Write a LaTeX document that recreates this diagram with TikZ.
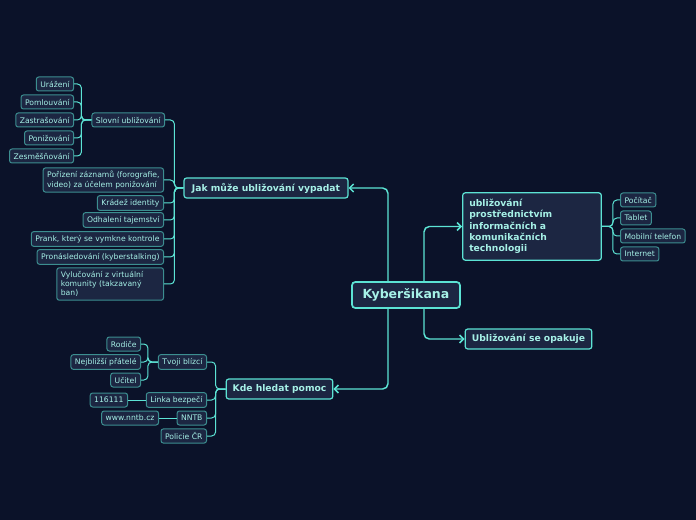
\documentclass[tikz,border=0pt]{standalone}
\usepackage{fontspec}
\setmainfont{DejaVu Sans}
\usetikzlibrary{arrows.meta,positioning}
\definecolor{bgnavy}{HTML}{0B1229}
\definecolor{boxfill}{HTML}{1C2642}
\definecolor{edge}{HTML}{5CE3D4}
\definecolor{dimedge}{HTML}{3C8E90}
\definecolor{txt}{HTML}{A6F1E7}

\begin{document}
\begin{tikzpicture}[
          x=0.75pt, y=-0.75pt,
          root/.style={draw=edge, line width=1.3pt, fill=boxfill, rounded corners=2.5pt, text=txt,
                       font=\bfseries\fontsize{9.4}{11}\selectfont, minimum height=19.5pt, inner xsep=4pt},
          topic/.style={draw=edge, line width=0.9pt, fill=boxfill, rounded corners=2pt, text=txt,
                        font=\bfseries\fontsize{6.9}{8.4}\selectfont, minimum height=15pt, inner xsep=4pt},
          leaf/.style={draw=dimedge, line width=0.75pt, fill=boxfill, rounded corners=1.8pt, text=txt,
                       font=\fontsize{5.75}{6.9}\selectfont, minimum height=10.5pt, inner xsep=3pt, inner ysep=2.6pt},
          link/.style={draw=edge, line width=1.1pt, rounded corners=4pt},
          twig/.style={draw=edge, line width=0.75pt, rounded corners=3pt},
          tip/.style={-{Straight Barb[length=3pt,width=6pt]}}
      ]
        \fill[bgnavy] (0,0) rectangle (696,520);

        \node[root, minimum width=81pt] (kyber) at (406,295) {Kyberšikana};
        \node[topic, minimum width=123pt] (jak) at (266,188) {Jak může ubližování vypadat};
        \node[topic, text width=94pt, align=left, inner sep=5pt, minimum height=47pt] (ikt) at (532,226.5)
            {ubližování\\prostřednictvím\\informačních a\\komunikačních\\technologii};
        \node[topic, minimum width=95pt] (opak) at (528.5,339) {Ubližování se opakuje};
        \node[topic, minimum width=80pt] (kde) at (279.5,389) {Kde hledat pomoc};

        \draw[link, tip] ([xshift=-13.5pt]kyber.north) |- (jak.east);
        \draw[link, tip] ([xshift=13.5pt]kyber.north) |- (ikt.west);
        \draw[link, tip] ([xshift=13.5pt]kyber.south) |- (opak.west);
        \draw[link, tip] ([xshift=-13.5pt]kyber.south) |- (kde.east);

        \node[leaf, anchor=east] (slovni) at (165,120) {Slovní ubližování};
        \node[leaf, anchor=east, align=left] (zaznam) at (164,180) {Pořízení záznamů (forografie,\\video) za účelem ponižování};
        \node[leaf, anchor=east] (kradez) at (164,203) {Krádež identity};
        \node[leaf, anchor=east] (odhaleni) at (164,220) {Odhalení tajemství};
        \node[leaf, anchor=east] (prank) at (164,239) {Prank, který se vymkne kontrole};
        \node[leaf, anchor=east] (pronas) at (164,257) {Pronásledování (kyberstalking)};
        \node[leaf, anchor=east, text width=74pt, align=left] (vylouc) at (164,284) {Vylučování z virtuální\\komunity (takzavaný\\ban)};

        \node[leaf, anchor=east] (urazeni) at (74,84) {Urážení};
        \node[leaf, anchor=east] (pomluva) at (74,102) {Pomlouvání};
        \node[leaf, anchor=east] (zastras) at (74,120) {Zastrašování};
        \node[leaf, anchor=east] (ponizeni) at (74,138) {Ponižování};
        \node[leaf, anchor=east] (zesmesn) at (74,156) {Zesměšňování};

        \node[leaf, anchor=west] (pocitac) at (620,200) {Počítač};
        \node[leaf, anchor=west] (tablet) at (620,218) {Tablet};
        \node[leaf, anchor=west] (mobil) at (620,236) {Mobilní telefon};
        \node[leaf, anchor=west] (internet) at (620,254) {Internet};

        \node[leaf, anchor=east] (blizci) at (207,362) {Tvoji blízcí};
        \node[leaf, anchor=east] (linka) at (207,400) {Linka bezpečí};
        \node[leaf, anchor=east] (nntb) at (207,418) {NNTB};
        \node[leaf, anchor=east] (policie) at (207,436) {Policie ČR};

        \node[leaf, anchor=east] (rodice) at (141,344) {Rodiče};
        \node[leaf, anchor=east] (pratele) at (141,362) {Nejbližší přátelé};
        \node[leaf, anchor=east] (ucitel) at (141,380) {Učitel};
        \node[leaf, anchor=east] (cislo) at (128,400) {116111};
        \node[leaf, anchor=east] (web) at (159,418) {www.nntb.cz};

        \foreach \n in {slovni,zaznam,kradez,odhaleni,prank,pronas,vylouc}
            \draw[twig] (jak.west) -- ++(-9,0) |- (\n.east);
        \foreach \n in {urazeni,pomluva,zastras,ponizeni,zesmesn}
            \draw[twig] (slovni.west) -- ++(-10,0) |- (\n.east);
        \foreach \n in {pocitac,tablet,mobil,internet}
            \draw[twig] (ikt.east) -- ++(11,0) |- (\n.west);
        \foreach \n in {blizci,linka,nntb,policie}
            \draw[twig] (kde.west) -- ++(-10,0) |- (\n.east);
        \foreach \n in {rodice,pratele,ucitel}
            \draw[twig] (blizci.west) -- ++(-10,0) |- (\n.east);
        \draw[twig] (linka.west) -- (cislo.east);
        \draw[twig] (nntb.west) -- (web.east);
      \end{tikzpicture}
\end{document}
